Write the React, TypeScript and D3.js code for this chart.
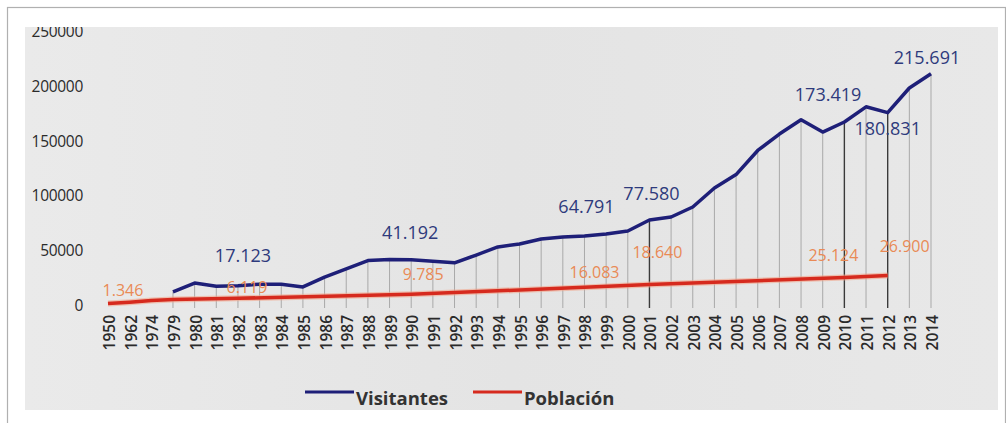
import React from 'react';
import * as d3 from 'd3';

const categories = ['1950','1962','1974','1979','1980','1981','1982','1983','1984','1985','1986','1987','1988','1989','1990','1991','1992','1993','1994','1995','1996','1997','1998','1999','2000','2001','2002','2003','2004','2005','2006','2007','2008','2009','2010','2011','2012','2013','2014'];

const visitantesYears = ['1979','1980','1981','1982','1983','1984','1985','1986','1987','1988','1989','1990','1991','1992','1993','1994','1995','1996','1997','1998','1999','2000','2001','2002','2003','2004','2005','2006','2007','2008','2009','2010','2011','2012','2013','2014'];
const visitantesValues = [12000,20000,17123,17500,19000,19000,16500,25500,33000,40500,41500,41192,40000,38500,45600,53000,55600,60200,62000,63000,64791,67500,77580,80300,89400,106700,119000,141000,156000,169000,157800,167000,180831,175500,198000,211000];

const poblacionYears = ['1950','1962','1974','1979','1982','1990','1998','2001','2010','2012'];
const poblacionValues = [1346,2500,4000,5000,6119,9785,16083,18640,25124,26900];

const yTicks = [0,50000,100000,150000,200000,250000];

const visLabelYears = ['1982','1990','1998','2001','2008','2012','2014'];
const visLabelTexts = ['17.123','41.192','64.791','77.580','173.419','180.831','215.691'];
const pobLabelYears = ['1950','1982','1990','1998','2001','2010','2012'];
const pobLabelTexts = ['1.346','6.119','9.785','16.083','18.640','25.124','26.900'];

const legendNames = ['Visitantes','Población'];

// styling-only offsets for data labels
const visLabelOffsets = [[5,-31],[-1,-28],[2,-30],[2,-27],[27,-26],[0,15],[-4,-17]];
const pobLabelOffsets = [[15,-14],[9,-11],[12,-20],[10,-15],[8,-33],[-11,-22],[17,-30]];
const darkDrops = ['2001','2010','2012'];

const BLUE = '#1e1f78';
const RED = '#d62a1e';
const BLUE_TXT = '#2e3a7c';
const RED_TXT = '#e98a55';
const FONT = '"Open Sans", "DejaVu Sans", sans-serif';

export default function App() {
  const W = 1006, H = 423;
  const x = d3.scalePoint<string>().domain(categories).range([108, 931]);
  const y = d3.scaleLinear().domain([0, 250000]).range([305, 31]);

  const visData = visitantesYears.map((yr, i) => ({ yr, v: visitantesValues[i] }));
  const pobData = poblacionYears.map((yr, i) => ({ yr, v: poblacionValues[i] }));
  const line = d3.line<{ yr: string; v: number }>().x(d => x(d.yr)!).y(d => y(d.v));

  const visMap = new Map(visData.map(d => [d.yr, d.v]));
  const pobMap = new Map(pobData.map(d => [d.yr, d.v]));

  return (
    <svg width={W} height={H} style={{ position: 'absolute', left: 0, top: 0, background: '#fff' }}>
      <defs>
        <clipPath id="bgclip"><rect x={25} y={27} width={973} height={383} /></clipPath>
        <linearGradient id="bggrad" x1="0" x2="1" y1="0" y2="0">
          <stop offset="0" stopColor="#eaeaea" />
          <stop offset="0.5" stopColor="#e4e4e4" />
          <stop offset="1" stopColor="#e8e8e8" />
        </linearGradient>
      </defs>
      <rect x={0} y={0} width={W} height={H} fill="#fff" />
      <rect x={7.5} y={7.5} width={998} height={420} fill="#fff" stroke="#b0b0b0" strokeWidth={1.2} />
      <rect x={25} y={27} width={973} height={383} fill="url(#bggrad)" />
      <g clipPath="url(#bgclip)" fontFamily={FONT}>
        {visData.map(d => {
          const dark = darkDrops.includes(d.yr);
          return (
            <line key={'d' + d.yr} x1={x(d.yr)} x2={x(d.yr)} y1={y(d.v)} y2={y(0) + 3}
              stroke={dark ? '#3a3a3a' : '#a9a9a9'} strokeWidth={dark ? 1.4 : 1} />
          );
        })}
        {yTicks.map(t => (
          <text key={'t' + t} x={83} y={y(t)} textAnchor="end" dominantBaseline="central"
            fontSize={15.5} fill="#2b2b2b" fontWeight={500} letterSpacing={-0.3}>{t}</text>
        ))}
        {categories.map(c => (
          <text key={'c' + c} transform={`translate(${x(c)! + 1},315) rotate(-90)`} textAnchor="end"
            dominantBaseline="central" fontSize={15.5} fontWeight={600} fill="#2a2a2a">{c}</text>
        ))}
        <path d={line(pobData)!} fill="none" stroke="#f2a58a" strokeWidth={6} opacity={0.6} strokeLinejoin="round" />
        <path d={line(pobData)!} fill="none" stroke={RED} strokeWidth={3.5} strokeLinejoin="round" />
        <path d={line(visData)!} fill="none" stroke={BLUE} strokeWidth={3.5} strokeLinejoin="round" />
        {visLabelYears.map((yr, i) => (
          <text key={'vl' + i} x={x(yr)! + visLabelOffsets[i][0]} y={y(visMap.get(yr)!) + visLabelOffsets[i][1]}
            textAnchor="middle" dominantBaseline="central" fontSize={18} fill={BLUE_TXT}>{visLabelTexts[i]}</text>
        ))}
        {pobLabelYears.map((yr, i) => (
          <text key={'pl' + i} x={x(yr)! + pobLabelOffsets[i][0]} y={y(pobMap.get(yr)!) + pobLabelOffsets[i][1]}
            textAnchor="middle" dominantBaseline="central" fontSize={16} fill={RED_TXT}>{pobLabelTexts[i]}</text>
        ))}
        <line x1={305} x2={354} y1={392} y2={392} stroke={BLUE} strokeWidth={3} />
        <text x={356} y={397} dominantBaseline="central" fontSize={18.5} fontWeight={700} fill="#333">{legendNames[0]}</text>
        <line x1={473} x2={522} y1={392} y2={392} stroke={RED} strokeWidth={3} />
        <text x={524} y={397} dominantBaseline="central" fontSize={18.5} fontWeight={700} fill="#333">{legendNames[1]}</text>
      </g>
    </svg>
  );
}
